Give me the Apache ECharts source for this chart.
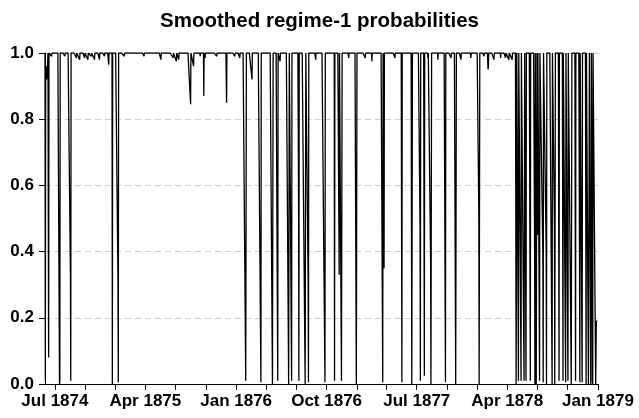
<!DOCTYPE html>
<html>
<head>
<meta charset="utf-8">
<script src="https://cdn.jsdelivr.net/npm/echarts@6/dist/echarts.min.js"></script>
<style>
  html, body { margin: 0; padding: 0; background: #fff; }
  #chart { width: 639px; height: 418px; }
</style>
</head>
<body>
<div id="chart"></div>
<script>
// daily axis: 1 Jun 1874 .. 1 Jan 1879
const startDate = '1874-06-01'
const endDate = '1879-01-01'
const baseLevel = 1.0 // the probability sits at 1 outside the dips

// dips: [date, probability]
const dips = [
  ['1874-06-02', 0.01], ['1874-06-03', 0.95], ['1874-06-04', 0.93], ['1874-06-05', 0.96],
  ['1874-06-06', 0.92], ['1874-06-07', 0.95], ['1874-06-08', 0.93], ['1874-06-09', 0.97],
  ['1874-06-12', 0.08], ['1874-06-21', 0.99], ['1874-07-15', 0.0], ['1874-07-16', 0.01],
  ['1874-07-31', 0.99], ['1874-08-17', 0.33], ['1874-08-18', 0.01], ['1874-09-04', 0.985],
  ['1874-09-14', 0.98], ['1874-09-29', 0.985], ['1874-10-09', 0.98], ['1874-10-19', 0.99],
  ['1874-10-29', 0.98], ['1874-11-13', 0.98], ['1874-11-28', 0.99], ['1874-12-11', 0.965],
  ['1874-12-22', 0.0], ['1875-01-08', 0.31], ['1875-01-09', 0.005], ['1875-01-27', 0.99],
  ['1875-03-28', 0.99], ['1875-05-18', 0.98], ['1875-06-24', 0.985], ['1875-07-04', 0.975],
  ['1875-07-11', 0.98], ['1875-08-16', 0.845], ['1875-08-25', 0.96], ['1875-09-14', 0.99],
  ['1875-09-25', 0.87], ['1875-09-29', 0.985], ['1875-11-03', 0.99], ['1875-12-03', 0.85],
  ['1875-12-28', 0.99], ['1876-01-12', 0.985], ['1876-01-30', 0.01], ['1876-01-31', 0.48],
  ['1876-02-18', 0.92], ['1876-03-16', 0.005], ['1876-04-20', 0.0], ['1876-04-21', 0.005],
  ['1876-05-06', 0.01], ['1876-05-13', 0.975], ['1876-06-08', 0.0], ['1876-06-09', 0.005],
  ['1876-06-17', 0.01], ['1876-07-08', 0.57], ['1876-07-09', 0.01], ['1876-07-28', 0.0],
  ['1876-07-29', 0.005], ['1876-08-06', 0.31], ['1876-08-07', 0.005], ['1876-08-29', 0.98],
  ['1876-09-26', 0.005], ['1876-10-25', 0.01], ['1876-11-08', 0.33], ['1876-11-15', 0.01],
  ['1876-11-16', 0.005], ['1876-12-07', 0.985], ['1876-12-30', 0.0], ['1876-12-31', 0.005],
  ['1877-01-26', 0.985], ['1877-02-15', 0.975], ['1877-03-20', 0.005], ['1877-03-24', 0.35],
  ['1877-04-26', 0.985], ['1877-05-17', 0.005], ['1877-06-16', 0.0], ['1877-06-17', 0.005],
  ['1877-07-11', 0.47], ['1877-07-12', 0.01], ['1877-07-24', 0.025], ['1877-08-04', 0.985],
  ['1877-08-12', 0.37], ['1877-08-13', 0.0], ['1877-08-14', 0.005], ['1877-09-03', 0.98],
  ['1877-09-26', 0.005], ['1877-10-13', 0.985], ['1877-10-27', 0.0], ['1877-10-28', 0.005],
  ['1877-11-12', 0.98], ['1877-12-12', 0.985], ['1878-01-05', 0.52], ['1878-01-06', 0.0],
  ['1878-01-07', 0.005], ['1878-01-21', 0.99], ['1878-02-02', 0.95], ['1878-02-03', 0.96],
  ['1878-02-20', 0.98], ['1878-03-12', 0.985], ['1878-03-27', 0.985], ['1878-04-06', 0.98],
  ['1878-04-16', 0.98], ['1878-04-28', 0.0], ['1878-04-29', 0.39], ['1878-05-05', 0.01],
  ['1878-05-13', 0.01], ['1878-05-22', 0.01], ['1878-05-23', 0.515], ['1878-05-28', 0.01],
  ['1878-06-10', 0.01], ['1878-06-23', 0.40], ['1878-06-24', 0.0], ['1878-06-28', 0.0],
  ['1878-06-29', 0.005], ['1878-07-02', 0.45], ['1878-07-08', 0.01], ['1878-07-18', 0.39],
  ['1878-07-19', 0.005], ['1878-07-28', 0.41], ['1878-07-29', 0.0], ['1878-08-15', 0.0],
  ['1878-08-22', 0.48], ['1878-08-23', 0.0], ['1878-08-24', 0.005], ['1878-09-05', 0.01],
  ['1878-09-17', 0.01], ['1878-09-25', 0.005], ['1878-10-02', 0.01], ['1878-10-12', 0.0],
  ['1878-10-13', 0.005], ['1878-10-25', 0.01], ['1878-11-06', 0.38], ['1878-11-07', 0.005],
  ['1878-11-14', 0.005], ['1878-11-26', 0.0], ['1878-12-03', 0.0], ['1878-12-04', 0.005],
  ['1878-12-05', 0.005], ['1878-12-10', 0.0], ['1878-12-11', 0.01], ['1878-12-16', 0.0],
  ['1878-12-25', 0.0], ['1878-12-26', 0.005], ['1878-12-27', 0.19], ['1878-12-28', 0.19],
  ['1878-12-29', 0.19], ['1878-12-30', 0.19], ['1878-12-31', 0.19], ['1879-01-01', 0.19]
]

const yTicks = [0, 0.2, 0.4, 0.6, 0.8, 1.0]
const monthNames = ['Jan', 'Feb', 'Mar', 'Apr', 'May', 'Jun', 'Jul', 'Aug', 'Sep', 'Oct', 'Nov', 'Dec']
const firstLabel = '1874-07' // labels every 9 months from here

// build the day list
const days = []
const dayMs = 86400000
for (let t = Date.parse(startDate); t <= Date.parse(endDate); t += dayMs) {
  days.push(new Date(t).toISOString().slice(0, 10))
}
const dipMap = {}
dips.forEach(d => { dipMap[d[0]] = d[1] })
const values = days.map(d => (d in dipMap ? dipMap[d] : baseLevel))

function monthNo(s) {
  return parseInt(s.slice(0, 4)) * 12 + parseInt(s.slice(5, 7)) - 1
}
const labelStart = monthNo(firstLabel + '-01')

const font = "'Liberation Sans', Arial, sans-serif"
const chart = echarts.init(document.getElementById('chart'))
chart.setOption({
  animation: false,
  title: {
    text: 'Smoothed regime-1 probabilities',
    left: 'center',
    top: 6,
    textStyle: { fontFamily: font, fontWeight: 'bold', fontSize: 20.5, color: '#000' }
  },
  grid: { left: 45, right: 41, top: 53, bottom: 34 },
  xAxis: {
    type: 'category',
    data: days,
    boundaryGap: false,
    axisLine: { lineStyle: { color: '#000', width: 1 } },
    axisTick: {
      length: 6,
      lineStyle: { color: '#000' },
      interval: (i, v) => v.slice(8) === '01' && (monthNo(v) % 3 === 0)
    },
    axisLabel: {
      color: '#000',
      fontFamily: font,
      fontWeight: 'bold',
      fontSize: 17,
      margin: 9,
      interval: (i, v) => v.slice(8) === '01' && ((monthNo(v) - labelStart) % 9 === 0),
      formatter: v => monthNames[parseInt(v.slice(5, 7)) - 1] + ' ' + v.slice(0, 4)
    },
    splitLine: { show: false }
  },
  yAxis: {
    type: 'value',
    min: yTicks[0],
    max: yTicks[yTicks.length - 1],
    interval: 0.2,
    axisLine: { show: true, lineStyle: { color: '#000', width: 1 } },
    axisTick: { show: true, length: 6, lineStyle: { color: '#000' } },
    axisLabel: {
      color: '#000',
      fontFamily: font,
      fontWeight: 'bold',
      fontSize: 17,
      margin: 11,
      formatter: v => v.toFixed(1)
    },
    splitLine: { lineStyle: { color: '#cfcfcf', type: [6, 4], width: 1 } }
  },
  series: [{
    type: 'line',
    data: values,
    showSymbol: false,
    symbol: 'none',
    lineStyle: { color: '#000', width: 1.3 },
    emphasis: { disabled: true }
  }]
})
</script>
</body>
</html>
